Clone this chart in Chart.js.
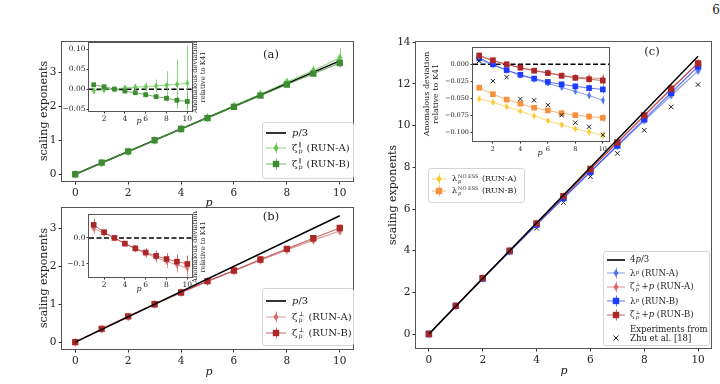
<!DOCTYPE html>
<html>
<head>
<meta charset="utf-8">
<script src="https://cdn.jsdelivr.net/npm/chart.js@4.4.0/dist/chart.umd.min.js"></script>
<style>
  body { margin: 0; width: 720px; height: 384px; position: relative; background: #fff; overflow: hidden;
         font-family: "DejaVu Serif", serif; color: #222; }
  .box { position: absolute; }
  .t { position: absolute; white-space: nowrap; transform: translate(-50%, -50%); line-height: 1; color: #222; }
  .leg { position: absolute; background: rgba(255,255,255,0.85); border: 1px solid #d4d4d4; border-radius: 3px; }
  .row { position: absolute; left: 0; white-space: nowrap; line-height: 1; display: flex; align-items: center; }
  .ss { display: inline-flex; flex-direction: column; vertical-align: middle; font-size: 0.62em; line-height: 0.95; margin: 0 1px; }
  i { font-style: italic; }
</style>
</head>
<body>
<script>
// ---------- data ----------
const P = [0, 1, 2, 3, 4, 5, 6, 7, 8, 9, 10];
const P_IN = [1, 2, 3, 4, 5, 6, 7, 8, 9, 10];
const P_ENDS = [0, 10];

// panel (a): parallel exponents
const zetaParA = [0, 0.33, 0.66, 1.00, 1.34, 1.67, 2.01, 2.35, 2.71, 3.05, 3.42];
const zetaParAErr = [0, 0.01, 0.01, 0.01, 0.02, 0.03, 0.05, 0.07, 0.09, 0.15, 0.29];
const zetaParB = [0, 0.34, 0.67, 1.00, 1.33, 1.65, 1.98, 2.31, 2.64, 2.96, 3.27];
const zetaParBErr = [0, 0.01, 0.01, 0.01, 0.01, 0.01, 0.02, 0.02, 0.03, 0.04, 0.06];
const k41Par = [0, 3.333];
const devParA = [-0.004, -0.002, 0.000, 0.003, 0.005, 0.006, 0.008, 0.010, 0.012, 0.015];
const devParAErr = [0.008, 0.006, 0.003, 0.006, 0.008, 0.011, 0.016, 0.035, 0.061, 0.094];
const devParB = [0.011, 0.006, 0.000, -0.005, -0.009, -0.014, -0.019, -0.023, -0.028, -0.031];
const devParBErr = [0.003, 0.002, 0.001, 0.003, 0.004, 0.005, 0.006, 0.008, 0.011, 0.017];

// panel (b): perpendicular exponents
const zetaPerpA = [0, 0.34, 0.67, 1.00, 1.31, 1.60, 1.88, 2.16, 2.43, 2.69, 2.93];
const zetaPerpAErr = [0, 0.01, 0.01, 0.01, 0.02, 0.03, 0.04, 0.05, 0.06, 0.07, 0.09];
const zetaPerpB = [0, 0.35, 0.68, 1.00, 1.31, 1.61, 1.89, 2.18, 2.46, 2.74, 3.01];
const zetaPerpBErr = [0, 0.02, 0.02, 0.01, 0.02, 0.03, 0.04, 0.05, 0.06, 0.07, 0.09];
const k41Perp = [0, 3.333];
const devPerpA = [0.036, 0.018, 0.000, -0.022, -0.042, -0.060, -0.075, -0.090, -0.103, -0.116];
const devPerpAErr = [0.022, 0.010, 0.005, 0.009, 0.012, 0.016, 0.020, 0.025, 0.030, 0.035];
const devPerpB = [0.050, 0.022, 0.000, -0.022, -0.040, -0.056, -0.069, -0.081, -0.091, -0.100];
const devPerpBErr = [0.025, 0.010, 0.005, 0.008, 0.012, 0.016, 0.020, 0.022, 0.027, 0.032];

// panel (c): lambda_p and zeta_perp + p
const lamA = [0, 1.34, 2.66, 3.96, 5.25, 6.52, 7.78, 9.02, 10.24, 11.45, 12.63];
const lamB = [0, 1.35, 2.67, 3.97, 5.25, 6.53, 7.79, 9.05, 10.31, 11.58, 12.84];
const zpA = [0, 1.35, 2.68, 4.00, 5.31, 6.61, 7.90, 9.18, 10.46, 11.75, 13.03];
const zpB = [0, 1.35, 2.68, 4.00, 5.31, 6.62, 7.92, 9.20, 10.49, 11.77, 12.99];
const mainErrC = [0, 0.01, 0.01, 0.02, 0.03, 0.04, 0.05, 0.06, 0.07, 0.08, 0.1];
const zhuExp = [1.33, 2.62, 3.95, 5.08, 6.31, 7.55, 8.67, 9.78, 10.90, 11.97];
const k41Lam = [0, 13.333];
const devZpA = [0.012, 0.005, 0.000, -0.005, -0.009, -0.012, -0.016, -0.019, -0.020, -0.021];
const devZpB = [0.013, 0.006, 0.000, -0.005, -0.0095, -0.013, -0.017, -0.020, -0.022, -0.024];
const devLamA = [0.007, -0.001, -0.009, -0.016, -0.022, -0.028, -0.034, -0.040, -0.046, -0.053];
const devLamB = [0.009, 0.000, -0.0085, -0.0155, -0.021, -0.026, -0.0295, -0.0325, -0.035, -0.037];
const noEssA = [-0.051, -0.056, -0.0625, -0.069, -0.076, -0.083, -0.089, -0.095, -0.100, -0.1045];
const noEssB = [-0.0345, -0.044, -0.052, -0.058, -0.064, -0.068, -0.072, -0.075, -0.077, -0.079];
const devZhu = [0.005, -0.0247, -0.019, -0.051, -0.053, -0.060, -0.075, -0.086, -0.092, -0.104];
const devErrC = [0.003, 0.002, 0.002, 0.002, 0.003, 0.003, 0.004, 0.004, 0.005, 0.006];

const COL = {
  greenA: 'rgb(98,196,80)', greenB: 'rgb(62,140,50)',
  redA: 'rgb(212,104,104)', redB: 'rgb(172,40,40)',
  blueA: 'rgb(80,115,228)', blueB: 'rgb(30,60,255)',
  gold: 'rgb(252,200,45)', orange: 'rgb(247,145,62)',
};
function alpha(c, a) { return c.replace('rgb(', 'rgba(').replace(')', ',' + a + ')'); }

// thin diamond marker as a small canvas
function thinDiamond(color, w, h) {
  const c = document.createElement('canvas');
  c.width = w + 2; c.height = h + 2;
  const g = c.getContext('2d');
  g.fillStyle = color;
  g.beginPath();
  g.moveTo(c.width / 2, 1); g.lineTo(c.width - 1, c.height / 2);
  g.lineTo(c.width / 2, c.height - 1); g.lineTo(1, c.height / 2);
  g.closePath(); g.fill();
  return c;
}

// ---------- plugins ----------
const errorBars = {
  id: 'errorBars',
  beforeDatasetsDraw(chart) {
    const { ctx, chartArea: a, scales: { x, y } } = chart;
    ctx.save();
    ctx.beginPath(); ctx.rect(a.left, a.top, a.right - a.left, a.bottom - a.top); ctx.clip();
    chart.data.datasets.forEach(ds => {
      if (!ds.errs) return;
      ctx.strokeStyle = ds.borderColor; ctx.lineWidth = 1;
      ds.data.forEach((pt, j) => {
        const e = ds.errs[j];
        if (!e) return;
        const px = Math.round(x.getPixelForValue(pt.x)) + 0.5;
        ctx.beginPath();
        ctx.moveTo(px, y.getPixelForValue(pt.y - e));
        ctx.lineTo(px, y.getPixelForValue(pt.y + e));
        ctx.stroke();
      });
    });
    ctx.restore();
  }
};

const frame = {
  id: 'frame',
  beforeDraw(chart) {
    const { ctx, chartArea: a } = chart;
    ctx.save(); ctx.fillStyle = '#fff';
    ctx.fillRect(a.left, a.top, a.right - a.left, a.bottom - a.top);
    ctx.restore();
  },
  beforeDatasetsDraw(chart, args, opts) {
    if (!opts.zero) return;
    const { ctx, chartArea: a, scales: { y } } = chart;
    const py = y.getPixelForValue(0);
    ctx.save();
    ctx.strokeStyle = '#000'; ctx.lineWidth = 1.5; ctx.setLineDash([5, 2.5]);
    ctx.beginPath(); ctx.moveTo(a.left, py); ctx.lineTo(a.right, py); ctx.stroke();
    ctx.restore();
  },
  afterDraw(chart) {
    const { ctx, chartArea: a } = chart;
    ctx.save(); ctx.strokeStyle = '#555'; ctx.lineWidth = 1;
    ctx.strokeRect(Math.round(a.left) - 0.5, Math.round(a.top) - 0.5,
      Math.round(a.right - a.left) + 1, Math.round(a.bottom - a.top) + 1);
    ctx.restore();
  }
};

// ---------- helpers ----------
function pts(xs, ys) { return xs.map((x, i) => ({ x, y: ys[i] })); }

function series(xs, ys, errs, color, marker, size, lw) {
  return {
    data: pts(xs, ys), errs,
    borderColor: alpha(color, 0.7), borderWidth: lw || 1,
    backgroundColor: color, pointBackgroundColor: color, pointBorderColor: color,
    pointStyle: marker, pointRadius: size, pointBorderWidth: 0,
    showLine: true, tension: 0,
  };
}
function refLine(ys, lw) {
  return { data: pts(P_ENDS, ys), borderColor: '#000', borderWidth: lw || 1.5, pointRadius: 0, showLine: true };
}

function panel(f, o) {
  const padT = 8, padR = 6;
  const W = o.yW + f.w + padR, H = padT + f.h + o.xH;
  const box = document.createElement('div');
  box.className = 'box';
  box.style.left = (f.l - o.yW) + 'px';
  box.style.top = (f.t - padT) + 'px';
  const cv = document.createElement('canvas');
  cv.width = W; cv.height = H;
  box.appendChild(cv);
  document.body.appendChild(box);
  const axis = (min, max, ticks, fmt, fit) => ({
    type: 'linear', min, max,
    afterFit: fit,
    afterBuildTicks: s => { s.ticks = ticks.map(v => ({ value: v })); },
    grid: { drawOnChartArea: false, drawTicks: true, tickLength: o.tick, tickColor: '#333' },
    border: { display: false },
    ticks: { font: { size: o.font, family: 'DejaVu Serif' }, color: '#222', padding: o.pad,
      maxRotation: 0, autoSkip: false, callback: fmt },
  });
  return new Chart(cv, {
    type: 'scatter',
    data: { datasets: o.datasets },
    options: {
      responsive: false, animation: false, events: [],
      layout: { padding: { top: padT, right: padR, left: 0, bottom: 0 } },
      plugins: { legend: { display: false }, tooltip: { enabled: false }, frame: { zero: !!o.zero } },
      scales: {
        x: axis(o.x[0], o.x[1], o.xTicks, v => String(v), s => { s.height = o.xH; }),
        y: axis(o.y[0], o.y[1], o.yTicks, o.yFmt || (v => String(v)), s => { s.width = o.yW; }),
      },
    },
    plugins: [frame, errorBars],
  });
}

const minus = (d) => v => (v < 0 ? '\u2212' : '') + Math.abs(v).toFixed(d);
const X_MAIN = [0, 2, 4, 6, 8, 10];
const X_IN = [2, 4, 6, 8, 10];

// ---------- panel (a) ----------
const dGA = thinDiamond(COL.greenA, 5, 9), dGAs = thinDiamond(COL.greenA, 4, 7);
panel({ l: 62, t: 42, w: 291, h: 139 }, {
  x: [-0.5, 10.5], y: [-0.2, 3.88], xTicks: X_MAIN, yTicks: [0, 1, 2, 3],
  yW: 30, xH: 20, tick: 3.5, pad: 2, font: 10.5,
  datasets: [
    series(P, zetaParB, zetaParBErr, COL.greenB, 'rect', 4.5, 1.2),
    series(P, zetaParA, zetaParAErr, COL.greenA, dGA, 4, 1.2),
    refLine(k41Par),
  ],
});
panel({ l: 89, t: 43, w: 103, h: 68 }, {
  x: [0.55, 10.45], y: [-0.055, 0.116], xTicks: X_IN, yTicks: [-0.05, 0, 0.05, 0.1], yFmt: minus(2),
  yW: 26, xH: 14, tick: 2.5, pad: 1, font: 7.5, zero: true,
  datasets: [
    series(P_IN, devParB, devParBErr, COL.greenB, 'rect', 3.4),
    series(P_IN, devParA, devParAErr, COL.greenA, dGAs, 3),
  ],
});

// ---------- panel (b) ----------
const dRA = thinDiamond(COL.redA, 5, 9), dRAs = thinDiamond(COL.redA, 4, 7);
panel({ l: 62, t: 208, w: 291, h: 141 }, {
  x: [-0.5, 10.5], y: [-0.18, 3.53], xTicks: X_MAIN, yTicks: [0, 1, 2, 3],
  yW: 30, xH: 20, tick: 3.5, pad: 2, font: 10.5,
  datasets: [
    refLine(k41Perp),
    series(P, zetaPerpB, zetaPerpBErr, COL.redB, 'rect', 4.5, 1.2),
    series(P, zetaPerpA, zetaPerpAErr, COL.redA, dRA, 4, 1.2),
  ],
});
panel({ l: 89, t: 215, w: 103, h: 62 }, {
  x: [0.55, 10.45], y: [-0.15, 0.088], xTicks: X_IN, yTicks: [-0.1, 0], yFmt: minus(1),
  yW: 26, xH: 14, tick: 2.5, pad: 1, font: 7.5, zero: true,
  datasets: [
    series(P_IN, devPerpB, devPerpBErr, COL.redB, 'rect', 4),
    series(P_IN, devPerpA, devPerpAErr, COL.redA, dRAs, 3),
  ],
});

// ---------- panel (c) ----------
const dBA = thinDiamond(COL.blueA, 5, 8), dBAs = thinDiamond(COL.blueA, 4, 7);
const dRAc = thinDiamond(COL.redA, 5, 8), dRAcs = thinDiamond(COL.redA, 4, 7);
const dGold = thinDiamond(COL.gold, 4, 7);
panel({ l: 416, t: 42, w: 295, h: 306 }, {
  x: [-0.48, 10.48], y: [-0.67, 14.0], xTicks: X_MAIN, yTicks: [0, 2, 4, 6, 8, 10, 12, 14],
  yW: 30, xH: 20, tick: 3.5, pad: 2, font: 10.5,
  datasets: [
    refLine(k41Lam),
    series(P, zpB, mainErrC, COL.redB, 'rect', 4.5, 1.2),
    series(P, lamB, mainErrC, COL.blueB, 'rect', 4.5, 1.2),
    series(P, zpA, mainErrC, COL.redA, dRAc, 4, 1.2),
    series(P, lamA, mainErrC, COL.blueA, dBA, 4, 1.2),
    { data: pts(P_IN, zhuExp), pointStyle: 'crossRot', pointRadius: 3.2, borderColor: '#222',
      pointBorderWidth: 1, borderWidth: 1, showLine: false },
  ],
});
panel({ l: 473, t: 48, w: 136, h: 93 }, {
  x: [0.55, 10.45], y: [-0.113, 0.024], xTicks: X_IN, yTicks: [-0.1, -0.075, -0.05, -0.025, 0], yFmt: minus(3),
  yW: 40, xH: 14, tick: 2.5, pad: 1.5, font: 6.5, zero: true,
  datasets: [
    { data: pts(P_IN, devZhu), pointStyle: 'crossRot', pointRadius: 3, borderColor: '#222',
      pointBorderWidth: 1, borderWidth: 1, showLine: false },
    series(P_IN, devZpB, devErrC, COL.redB, 'rect', 4),
    series(P_IN, devZpA, devErrC, COL.redA, dRAcs, 3),
    series(P_IN, devLamB, devErrC, COL.blueB, 'rect', 4),
    series(P_IN, devLamA, devErrC, COL.blueA, dBAs, 3),
    series(P_IN, noEssB, devErrC, COL.orange, 'rect', 4),
    series(P_IN, noEssA, devErrC, COL.gold, dGold, 3),
  ],
});

// ---------- text overlays ----------
function txt(html, x, y, size, extra) {
  const d = document.createElement('div');
  d.className = 't';
  d.innerHTML = html;
  d.style.left = x + 'px'; d.style.top = y + 'px'; d.style.fontSize = size + 'px';
  if (extra) d.style.transform = 'translate(-50%, -50%) ' + extra;
  document.body.appendChild(d);
  return d;
}
txt('6', 716, 10, 12);
txt('scaling exponents', 43, 111, 11, 'rotate(-90deg)');
txt('scaling exponents', 43, 278, 11, 'rotate(-90deg)');
txt('scaling exponents', 392, 195, 11, 'rotate(-90deg)');
txt('<i>p</i>', 209, 202, 11);
txt('<i>p</i>', 209, 371, 11);
txt('<i>p</i>', 564, 370, 11);
txt('(a)', 271, 55, 11.5);
txt('(b)', 271, 217, 11.5);
txt('(c)', 652, 52, 11.5);
txt('<i>p</i>', 139, 121, 8);
txt('<i>p</i>', 139, 289, 8);
txt('<i>p</i>', 540, 153, 8);
const yl = 'Anomalous deviation<br>relative to K41';
[[200, 77, 6.8], [200, 247, 6.8], [431, 94, 8]].forEach(([x, y, s]) => {
  const d = txt(yl, x, y, s, 'rotate(-90deg)');
  d.style.textAlign = 'center'; d.style.lineHeight = '1.15';
});

// ---------- legends ----------
const ms = (base, sub, sup) => base + '<span class="ss"><span>' + sup + '</span><span><i>' + sub + '</i></span></span>';
function handle(color, marker, w) {
  const m = w / 2;
  let mk = '';
  if (marker === 'd') mk = `<polygon points="${m},3 ${m + 2.5},7 ${m},11 ${m - 2.5},7" fill="${color}"/>`;
  if (marker === 's') mk = `<rect x="${m - 3.2}" y="3.8" width="6.4" height="6.4" fill="${color}"/>`;
  if (marker === 'x') return `<svg width="${w}" height="14"><path d="M${m - 2.5},4.5 L${m + 2.5},9.5 M${m + 2.5},4.5 L${m - 2.5},9.5" stroke="#222" stroke-width="1"/></svg>`;
  if (marker === 'k') return `<svg width="${w}" height="14"><line x1="0" y1="7" x2="${w}" y2="7" stroke="#000" stroke-width="1.6"/></svg>`;
  return `<svg width="${w}" height="14"><line x1="0" y1="7" x2="${w}" y2="7" stroke="${alpha(color, 0.7)}" stroke-width="1"/>` +
    `<line x1="${m + 0.5}" y1="1.5" x2="${m + 0.5}" y2="12.5" stroke="${alpha(color, 0.7)}" stroke-width="1"/>${mk}</svg>`;
}
function legend(box, rows, font, hx, hw, tx) {
  const l = document.createElement('div');
  l.className = 'leg';
  Object.assign(l.style, { left: box[0] + 'px', top: box[1] + 'px', width: box[2] + 'px', height: box[3] + 'px' });
  rows.forEach(([y, h, html]) => {
    if (h) {
      const r = document.createElement('div');
      r.className = 'row'; r.style.left = hx + 'px'; r.style.top = (y - 7) + 'px';
      r.innerHTML = h; l.appendChild(r);
    }
    const t = document.createElement('div');
    t.className = 'row'; t.style.left = tx + 'px'; t.style.top = (y - 7) + 'px'; t.style.height = '14px';
    t.style.fontSize = font + 'px'; t.innerHTML = html; l.appendChild(t);
  });
  document.body.appendChild(l);
}
legend([262, 122, 90, 55], [
  [10, handle('', 'k', 20), '<i>p</i>/3'],
  [25, handle(COL.greenA, 'd', 20), ms('ζ', 'p', '∥') + '&nbsp;(RUN-A)'],
  [40.5, handle(COL.greenB, 's', 20), ms('ζ', 'p', '∥') + '&nbsp;(RUN-B)'],
], 10, 3, 20, 29);
legend([262, 288, 90, 56], [
  [12, handle('', 'k', 20), '<i>p</i>/3'],
  [27.5, handle(COL.redA, 'd', 20), ms('ζ', 'p', '⊥') + '&nbsp;(RUN-A)'],
  [43.5, handle(COL.redB, 's', 20), ms('ζ', 'p', '⊥') + '&nbsp;(RUN-B)'],
], 10, 3, 20, 29);
legend([428, 168, 95, 33], [
  [9.5, handle(COL.gold, 'd', 14), ms('λ', 'p', 'NO ESS') + '&nbsp;(RUN-A)'],
  [21.5, handle(COL.orange, 's', 14), ms('λ', 'p', 'NO ESS') + '&nbsp;(RUN-B)'],
], 8, 3, 14, 23);
legend([603, 251, 105, 93], [
  [7.5, handle('', 'k', 18), '4<i>p</i>/3'],
  [21, handle(COL.blueA, 'd', 18), 'λ<sub style="font-size:0.65em"><i>p</i></sub>&nbsp;(RUN-A)'],
  [34.5, handle(COL.redA, 'd', 18), ms('ζ', 'p', '⊥') + '+ <i>p</i>&nbsp;(RUN-A)'],
  [49, handle(COL.blueB, 's', 18), 'λ<sub style="font-size:0.65em"><i>p</i></sub>&nbsp;(RUN-B)'],
  [62.5, handle(COL.redB, 's', 18), ms('ζ', 'p', '⊥') + '+ <i>p</i>&nbsp;(RUN-B)'],
  [77, null, 'Experiments from'],
  [86, handle('', 'x', 18), 'Zhu et al. [18]'],
], 8.5, 3, 18, 26);
</script>
</body>
</html>
